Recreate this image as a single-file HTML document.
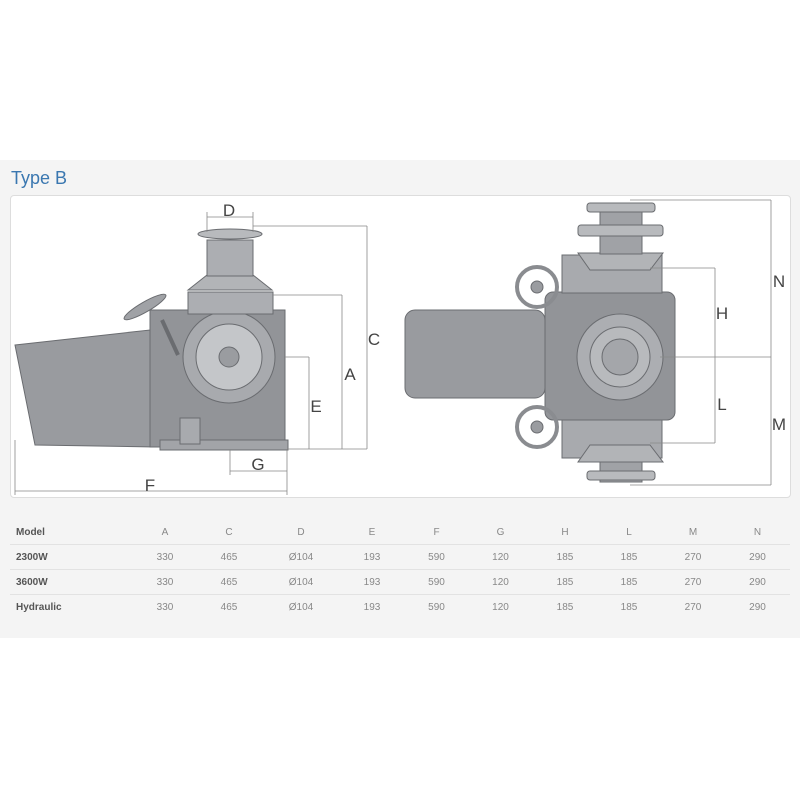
<!DOCTYPE html>
<html><head><meta charset="utf-8"><style>
body{margin:0;width:800px;height:800px;background:#fff;font-family:"Liberation Sans",sans-serif;position:relative;overflow:hidden}
.panel{position:absolute;left:0;top:160px;width:800px;height:478px;background:#f4f4f4}
.title{position:absolute;left:11px;top:168px;font-size:18px;color:#3a77b0}
.box{position:absolute;left:10px;top:195px;width:779px;height:301px;background:#fff;border:1px solid #ddd;border-radius:4px}
table{position:absolute;left:10px;top:520px;width:780px;border-collapse:collapse;font-size:10px;color:#888;table-layout:fixed}
td{height:24px;text-align:center;border-top:1px solid #e2e2e2;padding:0}
tr:first-child td{border-top:none}
td:first-child{text-align:left;padding-left:6px;color:#555;font-weight:bold}
</style></head><body>
<div class="panel"></div>
<div class="title">Type B</div>
<div class="box"></div>
<svg style="position:absolute;left:0;top:0" width="800" height="800">
<g fill="#9a9ca0" stroke="#6a6c70" stroke-width="1">
<polygon points="15,345 150,330 155,447 35,445" fill="#999b9f"/>
<rect x="150" y="310" width="135" height="137" fill="#929498"/>
<rect x="160" y="440" width="128" height="10" fill="#a2a4a8"/>
<rect x="180" y="418" width="20" height="26" fill="#a8aaae"/>
<circle cx="229" cy="357" r="46" fill="#a8aaae"/>
<circle cx="229" cy="357" r="33" fill="#c4c6c9"/>
<circle cx="229" cy="357" r="10" fill="#9a9ca0"/>
<rect x="188" y="292" width="85" height="22" fill="#acaeb2"/>
<polygon points="188,290 207,275 253,275 272,290" fill="#b2b4b7"/>
<rect x="207" y="240" width="46" height="36" fill="#acaeb2"/>
<ellipse cx="230" cy="234" rx="32" ry="5" fill="#b8babd"/>
<line x1="162" y1="320" x2="178" y2="355" stroke-width="4"/>
<ellipse cx="145" cy="307" rx="24" ry="5" transform="rotate(-30 145 307)" fill="#a0a2a6"/>
<rect x="405" y="310" width="140" height="88" rx="10" fill="#999b9f"/>
<rect x="545" y="292" width="130" height="128" rx="8" fill="#929498"/>
<rect x="562" y="255" width="100" height="38" fill="#a8aaae"/>
<rect x="562" y="420" width="100" height="38" fill="#a8aaae"/>
<polygon points="578,253 663,253 650,270 590,270" fill="#b2b4b7"/>
<polygon points="590,445 650,445 663,462 578,462" fill="#b2b4b7"/>
<rect x="600" y="212" width="42" height="42" fill="#a0a2a6"/>
<rect x="600" y="462" width="42" height="20" fill="#a0a2a6"/>
<rect x="578" y="225" width="85" height="11" rx="3" fill="#b8babd"/>
<rect x="587" y="203" width="68" height="9" rx="3" fill="#b8babd"/>
<rect x="587" y="471" width="68" height="9" rx="3" fill="#b8babd"/>
<circle cx="620" cy="357" r="43" fill="#acaeb2"/>
<circle cx="620" cy="357" r="30" fill="#b8babd"/>
<circle cx="620" cy="357" r="18" fill="#a4a6aa"/>
<circle cx="537" cy="287" r="20" fill="none" stroke-width="4" stroke="#8a8c90"/>
<circle cx="537" cy="427" r="20" fill="none" stroke-width="4" stroke="#8a8c90"/>
<circle cx="537" cy="287" r="6"/><circle cx="537" cy="427" r="6"/>
</g>
<g stroke="#888" stroke-width="0.8" fill="none">
<line x1="207" y1="217" x2="253" y2="217"/><line x1="207" y1="212" x2="207" y2="232"/><line x1="253" y1="212" x2="253" y2="232"/>
<line x1="253" y1="226" x2="367" y2="226"/><line x1="367" y1="226" x2="367" y2="449"/>
<line x1="273" y1="295" x2="342" y2="295"/><line x1="342" y1="295" x2="342" y2="449"/>
<line x1="285" y1="357" x2="309" y2="357"/><line x1="309" y1="357" x2="309" y2="449"/>
<line x1="287" y1="449" x2="367" y2="449"/>
<line x1="230" y1="449" x2="230" y2="475"/><line x1="287" y1="449" x2="287" y2="495"/>
<line x1="230" y1="471" x2="287" y2="471"/><line x1="15" y1="491" x2="287" y2="491"/><line x1="15" y1="440" x2="15" y2="495"/>
<line x1="630" y1="200" x2="771" y2="200"/><line x1="771" y1="200" x2="771" y2="485"/><line x1="630" y1="485" x2="771" y2="485"/>
<line x1="660" y1="357" x2="771" y2="357"/>
<line x1="650" y1="268" x2="715" y2="268"/><line x1="715" y1="268" x2="715" y2="443"/><line x1="650" y1="443" x2="715" y2="443"/>
</g>
<g font-family="Liberation Sans,sans-serif" font-size="17" fill="#444" text-anchor="middle">
<text x="229" y="216">D</text><text x="374" y="345">C</text><text x="350" y="380">A</text><text x="316" y="412">E</text>
<text x="258" y="470">G</text><text x="150" y="491">F</text>
<text x="722" y="319">H</text><text x="722" y="410">L</text><text x="779" y="287">N</text><text x="779" y="430">M</text>
</g>
</svg>
<table>
<colgroup><col style="width:125px"><col style="width:60px"><col style="width:68px"><col style="width:76px"><col style="width:66px"><col style="width:63px"><col style="width:65px"><col style="width:64px"><col style="width:64px"><col style="width:64px"><col style="width:65px"></colgroup>
<tr><td>Model</td><td>A</td><td>C</td><td>D</td><td>E</td><td>F</td><td>G</td><td>H</td><td>L</td><td>M</td><td>N</td></tr>
<tr><td>2300W</td><td>330</td><td>465</td><td>Ø104</td><td>193</td><td>590</td><td>120</td><td>185</td><td>185</td><td>270</td><td>290</td></tr>
<tr><td>3600W</td><td>330</td><td>465</td><td>Ø104</td><td>193</td><td>590</td><td>120</td><td>185</td><td>185</td><td>270</td><td>290</td></tr>
<tr><td>Hydraulic</td><td>330</td><td>465</td><td>Ø104</td><td>193</td><td>590</td><td>120</td><td>185</td><td>185</td><td>270</td><td>290</td></tr>
</table>
</body></html>
